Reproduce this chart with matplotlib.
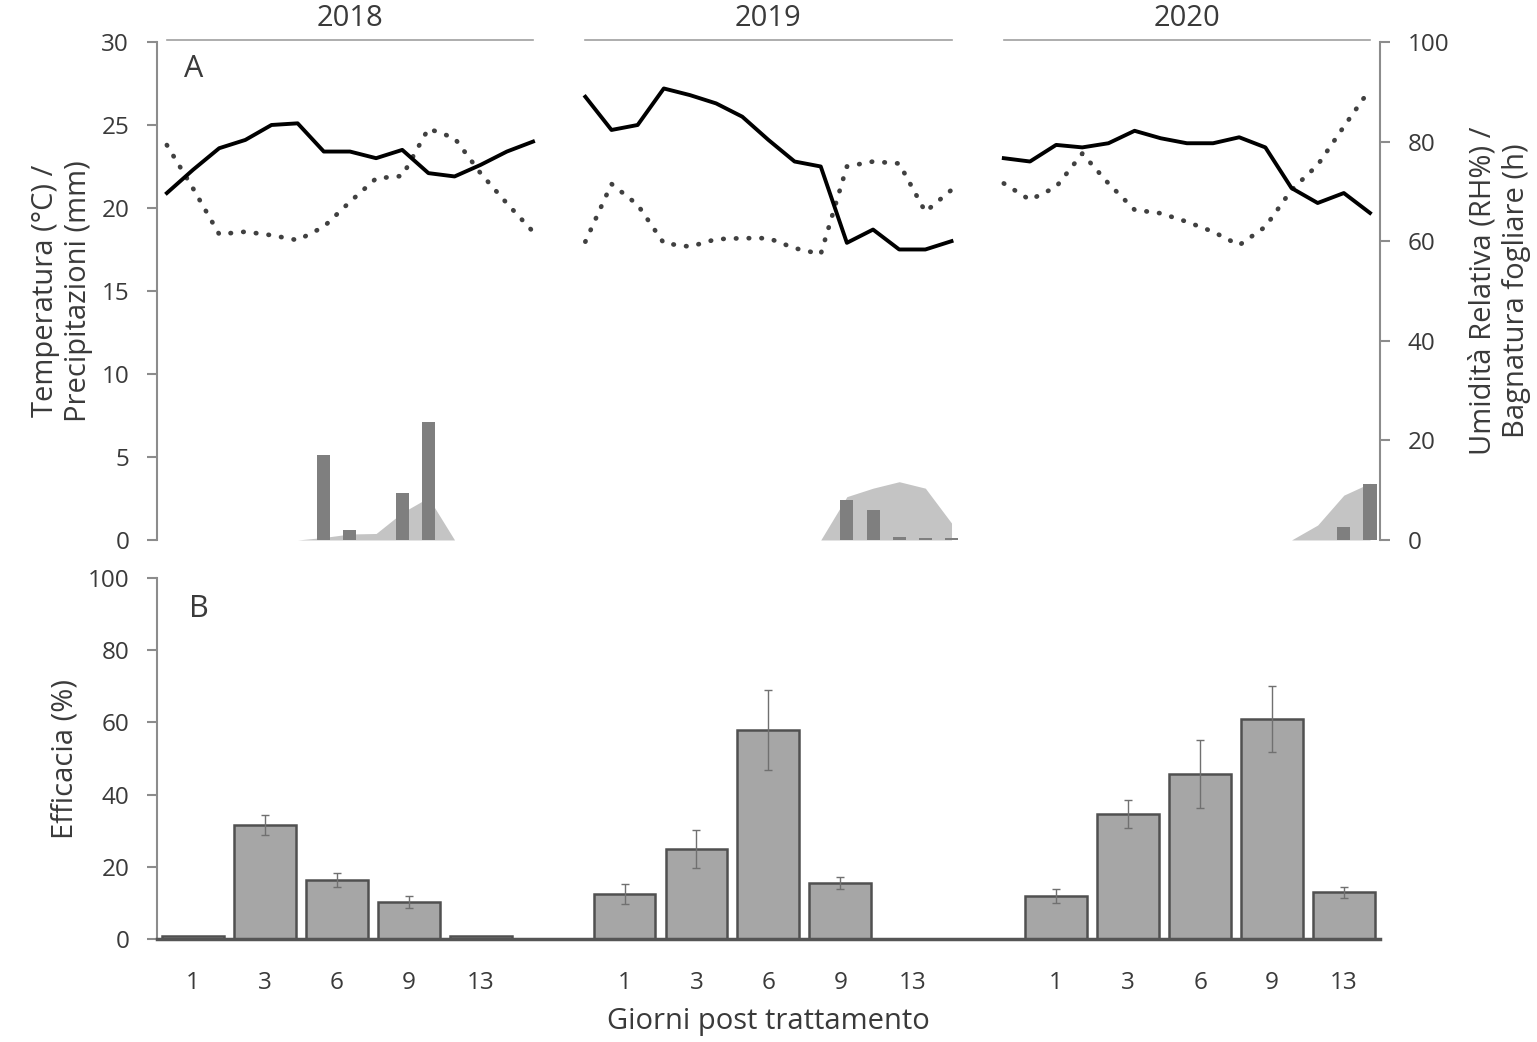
import matplotlib.pyplot as plt
import numpy as np
from matplotlib.transforms import blended_transform_factory

plt.rcParams['font.family'] = ['Open Sans', 'DejaVu Sans']
plt.rcParams['text.color'] = '#3a3a3a'
plt.rcParams['axes.labelcolor'] = '#3a3a3a'
plt.rcParams['xtick.color'] = '#3a3a3a'
plt.rcParams['ytick.color'] = '#3a3a3a'

######################
# data

years = ['2018', '2019', '2020']
days = ['1', '3', '6', '9', '13']

# temperature (°C), daily, 15 days per season
temp = {
    '2018': [20.9, 22.3, 23.6, 24.1, 25.0, 25.1, 23.4, 23.4, 23.0, 23.5, 22.1, 21.9, 22.6, 23.4, 24.0],
    '2019': [26.7, 24.7, 25.0, 27.2, 26.8, 26.3, 25.5, 24.1, 22.8, 22.5, 17.9, 18.7, 17.5, 17.5, 18.0],
    '2020': [23.0, 22.8, 23.8, 23.65, 23.9, 24.65, 24.2, 23.9, 23.9, 24.26, 23.65, 21.2, 20.3, 20.9, 19.7],
}
# relative humidity (%)
rh = {
    '2018': [79.3, 70.6, 61.4, 61.9, 61.2, 60.2, 62.9, 67.9, 72.6, 73.1, 82.6, 80.7, 73.6, 67.6, 61.9],
    '2019': [59.9, 71.5, 67.3, 59.6, 58.9, 60.4, 60.6, 60.6, 58.6, 57.4, 75.0, 76.0, 75.6, 65.9, 70.3],
    '2020': [71.6, 68.3, 70.9, 77.6, 71.6, 66.3, 65.6, 63.9, 61.9, 59.2, 62.9, 70.3, 75.3, 83.0, 90.5],
}
# precipitation (mm)
rain = {
    '2018': [0, 0, 0, 0, 0, 0, 5.1, 0.6, 0, 2.8, 7.1, 0, 0, 0, 0],
    '2019': [0, 0, 0, 0, 0, 0, 0, 0, 0, 0, 2.4, 1.8, 0.2, 0.1, 0.1],
    '2020': [0, 0, 0, 0, 0, 0, 0, 0, 0, 0, 0, 0, 0, 0.8, 3.4],
}
# leaf wetness (h)
wet = {
    '2018': [0, 0, 0, 0, 0, 0, 0.5, 1.2, 1.3, 5.5, 8.5, 0, 0, 0, 0],
    '2019': [0, 0, 0, 0, 0, 0, 0, 0, 0, 0, 8.7, 10.4, 11.7, 10.4, 3.4],
    '2020': [0, 0, 0, 0, 0, 0, 0, 0, 0, 0, 0, 0, 3.0, 9.0, 11.4],
}

# efficacy (%) and error
eff = {
    '2018': [0.8, 31.6, 16.3, 10.2, 0.8],
    '2019': [12.5, 25.0, 57.9, 15.5, 0],
    '2020': [11.9, 34.6, 45.7, 60.9, 13.0],
}
err = {
    '2018': [0, 2.7, 2.0, 1.7, 0],
    '2019': [2.7, 5.2, 11.1, 1.7, 0],
    '2020': [2.0, 3.8, 9.5, 9.2, 1.5],
}

######################

fig = plt.figure(figsize=(15.37, 10.42), dpi=100)
ax1 = fig.add_axes([0.1021, 0.4818, 0.7957, 0.4779])
ax2 = ax1.twinx()
ax3 = fig.add_axes([0.1021, 0.0988, 0.7957, 0.3465])

spine_col = '#8c8c8c'
fs = 17.5   # tick labels
fl = 21     # axis labels

# top panel: weather
ax2.set_zorder(ax1.get_zorder() - 1)
ax1.patch.set_visible(False)
trans = blended_transform_factory(ax1.transData, ax1.transAxes)
for k, yr in enumerate(years):
    x = np.arange(15) + 16 * k
    ax2.fill_between(x, 0, wet[yr], color='#c4c4c4', lw=0)
    ax1.bar(x, rain[yr], width=0.5, color='#7f7f7f')
    ax1.plot(x, temp[yr], color='black', lw=2.8, solid_joinstyle='round')
    ax2.plot(x, rh[yr], color='#404040', lw=3.4, linestyle=(0, (0.1, 2.6)),
             dash_capstyle='round')
    ax1.plot([x[0], x[-1]], [1.005, 1.005], transform=trans, color='#a0a0a0',
             lw=1.2, clip_on=False)
    ax1.text((x[0] + x[-1]) / 2, 1.048, yr, transform=trans, ha='center',
             va='center', fontsize=fl)

ax1.set_xlim(-0.38, 46.38)
ax1.set_ylim(0, 30)
ax1.set_yticks(range(0, 31, 5))
ax2.set_ylim(0, 100)
ax2.set_yticks(range(0, 101, 20))
ax1.set_xticks([])
for a in (ax1, ax2):
    for s in ('top', 'bottom'):
        a.spines[s].set_visible(False)
    a.tick_params(labelsize=fs, length=7, width=1.5, color=spine_col, pad=13)
ax1.spines['right'].set_visible(False)
ax1.spines['left'].set_color(spine_col)
ax1.spines['left'].set_linewidth(1.5)
ax2.spines['left'].set_visible(False)
ax2.spines['right'].set_color(spine_col)
ax2.spines['right'].set_linewidth(1.5)
ax1.set_ylabel('Temperatura (°C) /\nPrecipitazioni (mm)', fontsize=fl, labelpad=6)
ax2.set_ylabel('Umidità Relativa (RH%) /\nBagnatura fogliare (h)', fontsize=fl,
               labelpad=14)
ax1.text(0.022, 0.946, 'A', transform=ax1.transAxes, fontsize=22, va='center')

# bottom panel: efficacy
for k, yr in enumerate(years):
    pos = np.arange(5) + 6 * k
    ax3.bar(pos, eff[yr], width=0.86, color='#a6a6a6', edgecolor='#505050',
            lw=1.8)
    e = np.array(err[yr])
    pos_e = pos[e > 0]
    ax3.errorbar(pos_e, np.array(eff[yr])[e > 0], yerr=e[e > 0], fmt='none',
                 ecolor='#707070', elinewidth=1, capsize=3, capthick=1)

ax3.set_xlim(-0.5, 16.5)
ax3.set_ylim(0, 100)
ax3.set_yticks(range(0, 101, 20))
ax3.set_xticks([p + 6 * k for k in range(3) for p in range(5)])
ax3.set_xticklabels(days * 3)
ax3.tick_params(axis='x', length=0, pad=23, labelsize=fs)
ax3.tick_params(axis='y', labelsize=fs, length=7, width=1.5, color=spine_col, pad=13)
ax3.spines['top'].set_visible(False)
ax3.spines['right'].set_visible(False)
ax3.spines['left'].set_color(spine_col)
ax3.spines['left'].set_linewidth(1.5)
ax3.spines['bottom'].set_color('#555555')
ax3.spines['bottom'].set_linewidth(2.5)
ax3.set_ylabel('Efficacia (%)', fontsize=fl, labelpad=6)
ax3.set_xlabel('Giorni post trattamento', fontsize=fl, labelpad=9)
ax3.text(0.026, 0.915, 'B', transform=ax3.transAxes, fontsize=22, va='center')

fig.savefig('out.png', dpi=100)
